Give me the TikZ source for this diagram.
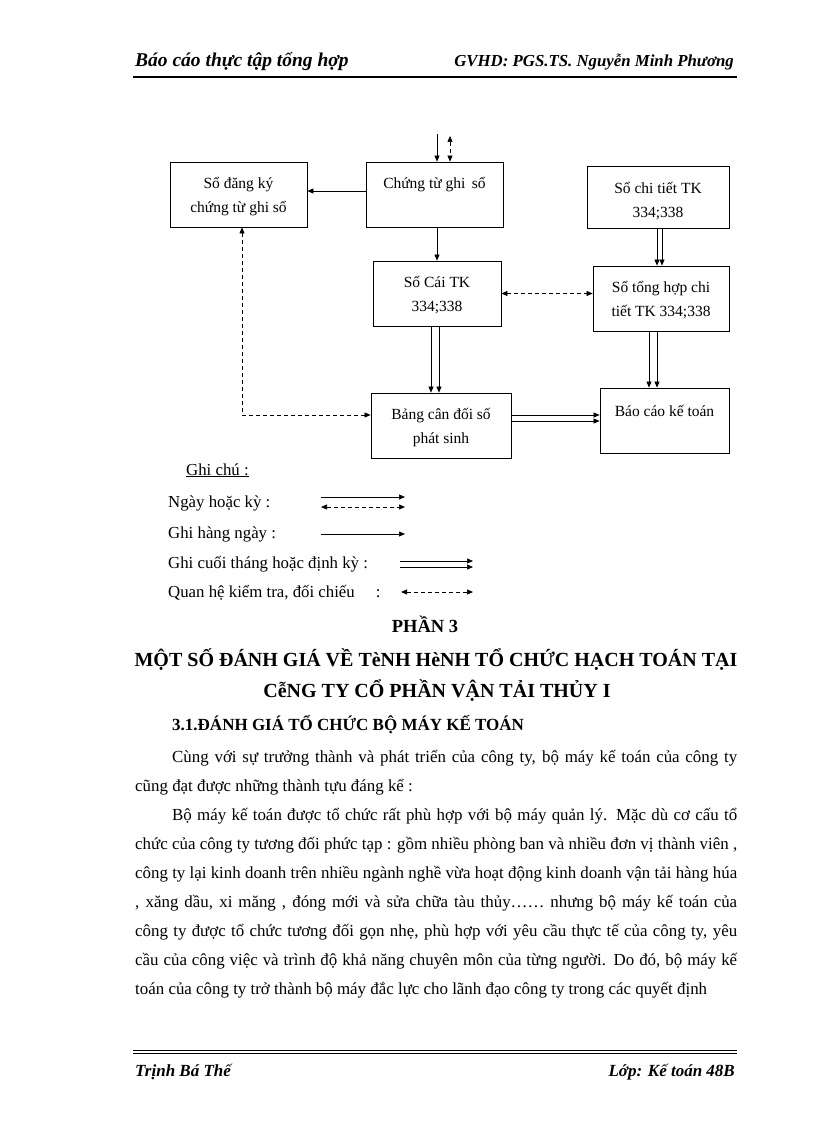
\documentclass[tikz,border=0pt]{standalone}
\usepackage{fontspec}
\setmainfont{Liberation Serif}
\usetikzlibrary{arrows.meta,calc}
\newcommand{\myfs}[1]{\fontsize{#1}{#1}\selectfont}
\newcommand{\jl}[2]{\makebox[#1][s]{#2}}
\begin{document}
\begin{tikzpicture}[x=1pt,y=-1pt,
  box/.style={draw, line width=0.8pt, inner sep=0pt},
  boxtxt/.style={align=center, inner sep=0pt, font=\fontsize{15.5}{24}\selectfont},
  arr/.style={line width=0.7pt, -{Triangle[length=6pt,width=5pt]}},
  darr/.style={line width=0.7pt, dash pattern=on 4pt off 3pt, {Triangle[length=6pt,width=5pt]}-{Triangle[length=6pt,width=5pt]}},
  body/.style={anchor=base west, inner sep=0pt, font=\myfs{16.9}},
  legtxt/.style={anchor=base west, inner sep=0pt, font=\myfs{16.8}},
  head/.style={anchor=base, inner sep=0pt, font=\bfseries\myfs{20}}
]
\path[use as bounding box] (0,0) rectangle (816,1123);

% header
\node[anchor=base west, inner sep=0pt, font=\bfseries\itshape\myfs{19.5}] (hl) at (135,67) {Báo cáo thực tập tổng hợp};
\node[anchor=base east, inner sep=0pt, font=\bfseries\itshape\myfs{16.8}] (hr) at (734,67) {GVHD: PGS.TS. Nguyễn Minh Phương};
\draw[line width=1.6pt] (133,77) -- (737,77);

% boxes
\node[box, minimum width=137pt, minimum height=65pt] (dk) at (238.5,194.5) {};
\node[box, minimum width=137pt, minimum height=65pt] (ct) at (434.5,194.5) {};
\node[box, minimum width=128pt, minimum height=65pt] (sc) at (437,293.5) {};
\node[box, minimum width=140pt, minimum height=65pt] (bcd) at (441,425.5) {};
\node[box, minimum width=142pt, minimum height=62pt] (ci) at (658,197) {};
\node[box, minimum width=136pt, minimum height=65pt] (th) at (661,298.5) {};
\node[box, minimum width=129pt, minimum height=65pt] (bc) at (664.5,420.5) {};

\node[boxtxt] (dkt) at (238.5,197) {Sổ đăng ký\\chứng từ ghi sổ};
\node[boxtxt] (ctt) at (434.5,185) {Chứng từ ghi\, sổ};
\node[boxtxt] (sct) at (437,295) {Sổ Cái TK\\334;338};
\node[boxtxt] (bcdt) at (441,427.5) {Bảng cân đối số\\phát sinh};
\node[boxtxt] (cit) at (658,201) {Sổ chi tiết TK\\334;338};
\node[boxtxt] (tht) at (661,300) {Sổ tổng hợp chi\\tiết TK 334;338};
\node[boxtxt] (bct) at (664.5,411) {Báo cáo kế toán};

% connectors
\coordinate (in1) at (437,134);
\coordinate (in2) at (450,136);
\draw[arr] (in1) -- (in1 |- ct.north);
\draw[darr] (in2) -- (in2 |- ct.north);
\draw[arr] ([yshift=3.5pt]ct.west) -- ([yshift=3.5pt]dk.east);
\draw[arr] (sc.north |- ct.south) -- (sc.north);
\draw[arr] ([xshift=-6pt]sc.south) -- ([xshift=-6pt]sc.south |- bcd.north);
\draw[arr] ([xshift=2pt]sc.south) -- ([xshift=2pt]sc.south |- bcd.north);
\draw[darr] ([xshift=3.5pt]dk.south) |- ([yshift=10.5pt]bcd.west);
\draw[darr] (sc.east) -- (sc.east -| th.west);
\draw[arr] ([xshift=-1pt]ci.south) -- ([xshift=-1pt]ci.south |- th.north);
\draw[arr] ([xshift=4pt]ci.south) -- ([xshift=4pt]ci.south |- th.north);
\draw[arr] ([xshift=-12pt]th.south) -- ([xshift=-12pt]th.south |- bc.north);
\draw[arr] ([xshift=-4pt]th.south) -- ([xshift=-4pt]th.south |- bc.north);
\draw[arr] ([yshift=10.5pt]bcd.east) -- ([yshift=10.5pt]bcd.east -| bc.west);
\draw[arr] ([yshift=4.5pt]bcd.east) -- ([yshift=4.5pt]bcd.east -| bc.west);

% legend
\node[legtxt] (g0) at (186,475) {\underline{Ghi chú :}};
\node[legtxt] (g1) at (168,507) {Ngày hoặc kỳ :};
\node[legtxt] (g2) at (168,538) {Ghi hàng ngày :};
\node[legtxt] (g3) at (168,568) {Ghi cuối tháng hoặc định kỳ\ :};
\node[legtxt] (g4) at (168,597) {Quan hệ kiểm tra, đối chiếu\quad\ :};
\coordinate (l1a) at (321,497); \coordinate (l1b) at (405,497);
\coordinate (l2a) at (321,507); \coordinate (l2b) at (405,507);
\coordinate (l3a) at (321,534); \coordinate (l3b) at (405,534);
\coordinate (l4a) at (400,561); \coordinate (l4b) at (473,561);
\coordinate (l5a) at (400,567); \coordinate (l5b) at (473,567);
\coordinate (l6a) at (401,592); \coordinate (l6b) at (473,592);
\draw[arr] (l1a) -- (l1b);
\draw[darr] (l2a) -- (l2b);
\draw[arr] (l3a) -- (l3b);
\draw[arr] (l4a) -- (l4b);
\draw[arr] (l5a) -- (l5b);
\draw[darr] (l6a) -- (l6b);

% headings
\node[head, font=\bfseries\myfs{18.5}] (h1) at (425,632) {PHẦN 3};
\node[head] (h2) at (436,666) {MỘT SỐ ĐÁNH GIÁ VỀ TèNH HèNH TỔ CHỨC HẠCH TOÁN TẠI};
\node[head] (h3) at (437,697) {CễNG TY CỔ PHẦN VẬN TẢI THỦY I};
\node[head, anchor=base west, font=\bfseries\myfs{17}] (h4) at (172,730) {3.1.ĐÁNH GIÁ TỔ CHỨC BỘ MÁY KẾ TOÁN};

% body
\node[body] (b1) at (172,762) {\jl{565pt}{Cùng với sự trưởng thành và phát triển của công ty, bộ máy kế toán của công ty}};
\node[body] (b2) at (135,791) {cũng đạt được những thành tựu đáng kể :};
\node[body] (b3) at (172,820) {\jl{565pt}{Bộ máy kế toán được tổ chức rất phù hợp với bộ máy quản lý. Mặc dù cơ cấu tổ}};
\node[body] (b4) at (135,849) {\jl{602pt}{chức của công ty tương đối phức tạp : gồm nhiều phòng ban và nhiều đơn vị thành viên ,}};
\node[body] (b5) at (135,878) {\jl{602pt}{công ty lại kinh doanh trên nhiều ngành nghề vừa hoạt động kinh doanh vận tải hàng húa}};
\node[body] (b6) at (135,907) {\jl{602pt}{, xăng dầu, xi măng , đóng mới và sửa chữa tàu thủy…… nhưng bộ máy kế toán của}};
\node[body] (b7) at (135,936) {\jl{602pt}{công ty được tổ chức tương đối gọn nhẹ, phù hợp với yêu cầu thực tế của công ty, yêu}};
\node[body] (b8) at (135,965) {\jl{602pt}{cầu của công việc và trình độ khả năng chuyên môn của từng người. Do đó, bộ máy kế}};
\node[body] (b9) at (135,994) {toán của công ty trở thành bộ máy đắc lực cho lãnh đạo công ty trong các quyết định};

% footer
\draw[line width=0.6pt] (133,1050) -- (737,1050);
\draw[line width=1.4pt] (133,1053.5) -- (737,1053.5);
\node[anchor=base west, inner sep=0pt, font=\bfseries\itshape\myfs{17}] (fl) at (135,1076) {Trịnh Bá Thế};
\node[anchor=base east, inner sep=0pt, font=\bfseries\itshape\myfs{17}] (fr) at (735,1076) {Lớp: Kế toán 48B};
\end{tikzpicture}
\end{document}
